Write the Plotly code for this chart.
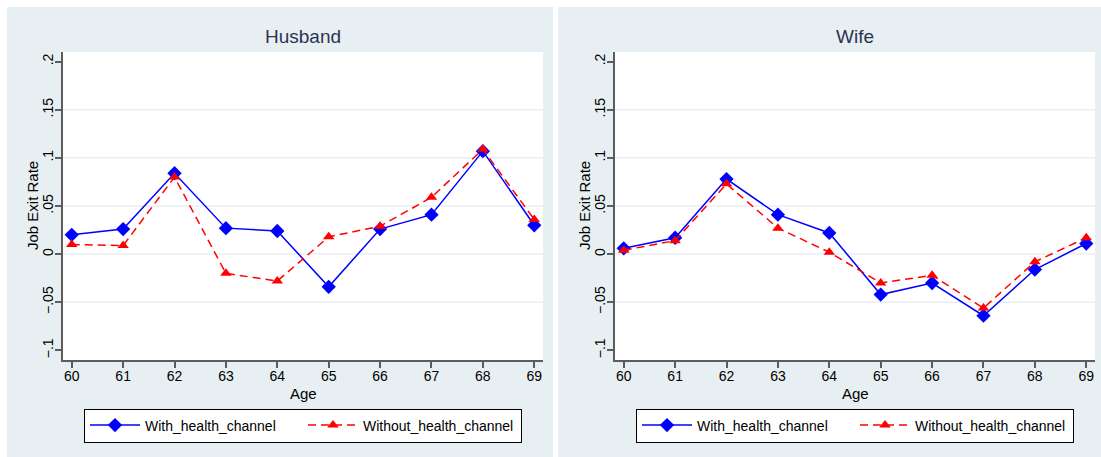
import plotly.graph_objects as go

# Job exit rate by age, with and without the health channel
ages = [60, 61, 62, 63, 64, 65, 66, 67, 68, 69]

husband_with = [0.020, 0.026, 0.084, 0.027, 0.024, -0.034, 0.026, 0.041, 0.107, 0.030]
husband_without = [0.010, 0.009, 0.080, -0.020, -0.028, 0.018, 0.029, 0.059, 0.109, 0.036]

wife_with = [0.006, 0.017, 0.078, 0.041, 0.022, -0.042, -0.030, -0.064, -0.016, 0.011]
wife_without = [0.004, 0.014, 0.073, 0.027, 0.002, -0.030, -0.022, -0.056, -0.008, 0.017]

panel_titles = ["Husband", "Wife"]
y_tickvals = [-0.1, -0.05, 0, 0.05, 0.1, 0.15, 0.2]
y_ticktext = ["\u2212.1", "\u2212.05", "0", ".05", ".1", ".15", ".2"]
grid_vals = [-0.05, 0, 0.05, 0.1, 0.15]

W, H = 1101, 457
BG = "#e8eff2"
AXIS = "#5c5c5c"
FONT = "Arial, Liberation Sans, sans-serif"


def px_x(p):
    return p / W


def px_y(p):
    return 1 - p / H


# plot areas in pixels: (left, right)
plot_x = [(63, 543), (615, 1095)]
plot_top, plot_bottom = 52, 360
panel_x = [(7, 553), (558, 1101)]

fig = go.Figure()

series = [(husband_with, husband_without), (wife_with, wife_without)]
for i, (with_vals, without_vals) in enumerate(series):
    xa = "x" if i == 0 else "x2"
    ya = "y" if i == 0 else "y2"
    lg = "legend" if i == 0 else "legend2"
    fig.add_trace(go.Scatter(
        x=ages, y=with_vals, xaxis=xa, yaxis=ya, legend=lg,
        name="With_health_channel", mode="lines+markers",
        line=dict(color="#0000ff", width=1.5),
        marker=dict(symbol="diamond", size=11, color="#0000ff"),
    ))
    fig.add_trace(go.Scatter(
        x=ages, y=without_vals, xaxis=xa, yaxis=ya, legend=lg,
        name="Without_health_channel", mode="lines+markers",
        line=dict(color="#ff0000", width=1.5, dash="8px,5px"),
        marker=dict(symbol="triangle-up", size=10, color="#ff0000"),
    ))

shapes = []
annotations = []
for i in range(2):
    # panel background
    shapes.append(dict(type="rect", xref="paper", yref="paper", layer="below",
                       x0=px_x(panel_x[i][0]), x1=px_x(panel_x[i][1]),
                       y0=0, y1=px_y(7), fillcolor=BG, line=dict(width=0)))
    # white plot region
    shapes.append(dict(type="rect", xref="paper", yref="paper", layer="below",
                       x0=px_x(plot_x[i][0]), x1=px_x(plot_x[i][1]),
                       y0=px_y(plot_bottom), y1=px_y(plot_top),
                       fillcolor="white", line=dict(width=0)))
    xr = "x domain" if i == 0 else "x2 domain"
    yr = "y" if i == 0 else "y2"
    for g in grid_vals:
        shapes.append(dict(type="line", xref=xr, yref=yr, layer="below",
                           x0=0, x1=1, y0=g, y1=g,
                           line=dict(color=BG, width=1.5)))
    cx = px_x((plot_x[i][0] + plot_x[i][1]) / 2)
    annotations.append(dict(text=panel_titles[i], xref="paper", yref="paper",
                            x=cx, y=px_y(36), showarrow=False,
                            xanchor="center", yanchor="middle",
                            font=dict(size=19, color="#2a3452", family=FONT)))
    annotations.append(dict(text="Age", xref="paper", yref="paper",
                            x=cx, y=px_y(393), showarrow=False,
                            xanchor="center", yanchor="middle",
                            font=dict(size=15, color="black", family=FONT)))
    annotations.append(dict(text="Job Exit Rate", xref="paper", yref="paper",
                            x=px_x(plot_x[i][0] - 31), y=px_y((plot_top + plot_bottom) / 2),
                            showarrow=False, textangle=-90,
                            xanchor="center", yanchor="middle",
                            font=dict(size=15, color="black", family=FONT)))

axis_common = dict(showline=True, linecolor=AXIS, linewidth=2, ticks="outside",
                   ticklen=6, tickwidth=1.5, tickcolor=AXIS, showgrid=False,
                   zeroline=False, tickfont=dict(size=14, color="black", family=FONT))

layout = dict(
    width=W, height=H, margin=dict(l=0, r=0, t=0, b=0, autoexpand=False),
    paper_bgcolor="white", plot_bgcolor="rgba(0,0,0,0)",
    font=dict(family=FONT, color="black"),
    shapes=shapes, annotations=annotations,
)
for i in range(2):
    sfx = "" if i == 0 else "2"
    layout["xaxis" + sfx] = dict(axis_common, domain=[px_x(plot_x[i][0]), px_x(plot_x[i][1])],
                                 anchor="y" + sfx, range=[59.83, 69.17],
                                 tickvals=ages, ticktext=[str(a) for a in ages],
                                 ticklabelstandoff=-4)
    layout["yaxis" + sfx] = dict(axis_common, domain=[px_y(plot_bottom), px_y(plot_top)],
                                 anchor="x" + sfx, range=[-0.11, 0.21],
                                 tickvals=y_tickvals, ticktext=y_ticktext, tickangle=-90,
                                 ticklabelstandoff=-4)
    cx = px_x((plot_x[i][0] + plot_x[i][1]) / 2)
    layout["legend" + sfx] = dict(x=cx, y=px_y(425.5), xanchor="center", yanchor="middle",
                                  orientation="h", bgcolor="white", bordercolor="black",
                                  borderwidth=1, itemwidth=50, entrywidth=153,
                                  font=dict(size=14, color="black", family=FONT))

fig.update_layout(**layout)
fig.write_html("out.html")
